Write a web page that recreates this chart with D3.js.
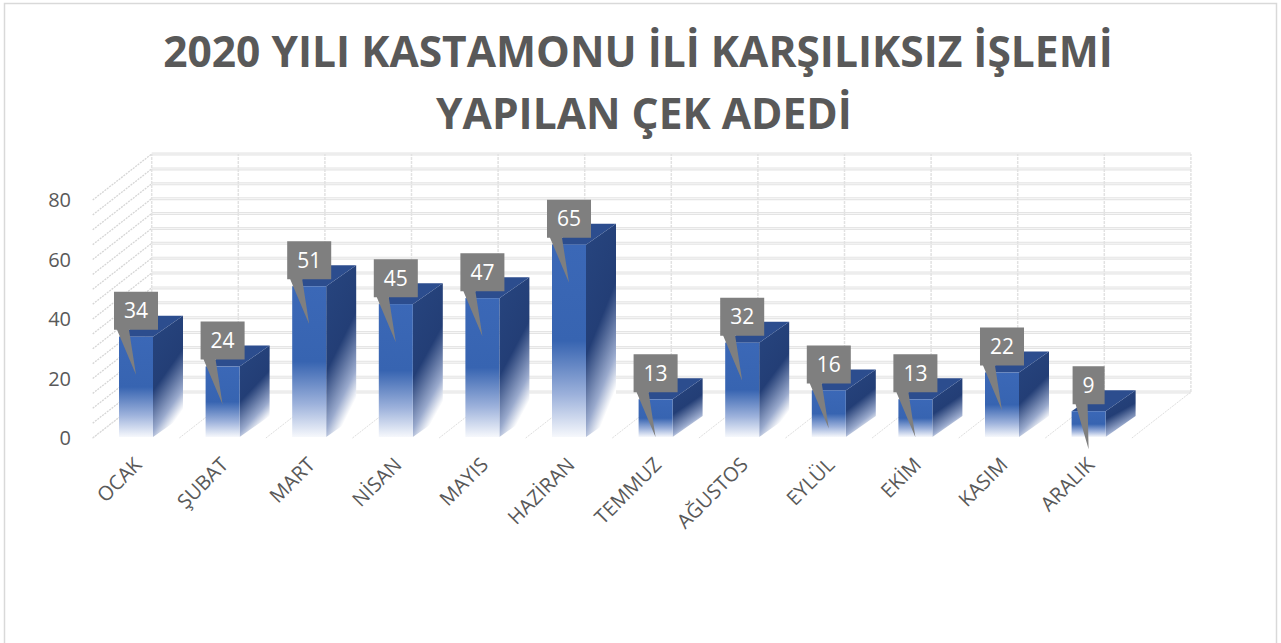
<!DOCTYPE html>
<html>
<head>
<meta charset="utf-8">
<script src="https://d3js.org/d3.v7.min.js"></script>
<style>
    body { margin: 0; background: #fff; }
    #chart { width: 1281px; height: 643px; }
    text { font-family: "Open Sans", "Noto Sans", sans-serif; }
</style>
</head>
<body>
<div id="chart"></div>
<script>
// data
var months = ["OCAK", "ŞUBAT", "MART", "NİSAN", "MAYIS", "HAZİRAN", "TEMMUZ", "AĞUSTOS", "EYLÜL", "EKİM", "KASIM", "ARALIK"];
var counts = [34, 24, 51, 45, 47, 65, 13, 32, 16, 13, 22, 9];
var yTicks = [0, 20, 40, 60, 80];
var titleLines = ["2020 YILI KASTAMONU İLİ KARŞILIKSIZ İŞLEMİ", "YAPILAN ÇEK ADEDİ"];

!function(){
    var width = 1281, height = 643;

    // depth of the 3d box (floor) and of one column
    var depth = {dx: 59, dy: -46};
    var colDepth = {dx: 30, dy: -21};
    var colWidth = 34;

    var svg = d3.select("#chart").append("svg")
        .attr("width", width)
        .attr("height", height);

    // chart area border
    svg.append("rect")
        .attr("x", 4.5).attr("y", 3.5)
        .attr("width", 1272).attr("height", 700)
        .attr("fill", "#fff")
        .attr("stroke", "#d9d9d9")
        .attr("stroke-width", 1.5);

    // front plane scales
    var xScale = d3.scaleBand()
        .domain(months)
        .range([92.7, 1131.9])
        .padding(0);

    var yScale = d3.scaleLinear()
        .domain([0, 80])
        .range([438, 200]);

    // gradients for the column faces
    var defs = svg.append("defs");
    var gFront = defs.append("linearGradient")
        .attr("id", "gFront")
        .attr("x1", 0).attr("y1", 0).attr("x2", 0).attr("y2", 1);
    gFront.append("stop").attr("offset", 0).attr("stop-color", "#3b68b7");
    gFront.append("stop").attr("offset", 0.5).attr("stop-color", "#3764b1");
    gFront.append("stop").attr("offset", 0.78).attr("stop-color", "#9cb1db");
    gFront.append("stop").attr("offset", 1).attr("stop-color", "#f6f8fc");

    var gSide = defs.append("linearGradient")
        .attr("id", "gSide")
        .attr("x1", 0).attr("y1", 0).attr("x2", 0.35).attr("y2", 1);
    gSide.append("stop").attr("offset", 0).attr("stop-color", "#27457f");
    gSide.append("stop").attr("offset", 0.55).attr("stop-color", "#233e76");
    gSide.append("stop").attr("offset", 0.85).attr("stop-color", "#9aaacd");
    gSide.append("stop").attr("offset", 1).attr("stop-color", "#ffffff");

    // title
    svg.append("g").selectAll("text")
        .data(titleLines)
        .enter().append("text")
        .attr("x", function(d, i) { return i == 0 ? 638 : 644; })
        .attr("y", function(d, i) { return 67 + i * 62; })
        .attr("text-anchor", "middle")
        .attr("font-size", 42.5)
        .attr("font-weight", "bold")
        .attr("fill", "#595959")
        .text(function(d) { return d; });

    var walls = svg.append("g").attr("class", "walls");
    var gridVals = yScale.ticks(20);
    var x0 = xScale.range()[0], x1 = xScale.range()[1];

    // left side wall lines
    walls.selectAll(".side")
        .data(gridVals)
        .enter().append("line")
        .attr("x1", x0).attr("y1", function(d) { return yScale(d); })
        .attr("x2", x0 + depth.dx).attr("y2", function(d) { return yScale(d) + depth.dy; })
        .attr("stroke", "#d6d6d6")
        .attr("stroke-width", 1.3)
        .attr("stroke-dasharray", "2,1");

    // back wall horizontal grid (doubled light lines)
    walls.selectAll(".backH")
        .data(gridVals)
        .enter().append("line")
        .attr("x1", x0 + depth.dx).attr("x2", x1 + depth.dx)
        .attr("y1", function(d) { return yScale(d) + depth.dy; })
        .attr("y2", function(d) { return yScale(d) + depth.dy; })
        .attr("stroke", "#e4e4e4")
        .attr("stroke-width", 3);
    walls.selectAll(".backH2")
        .data(gridVals)
        .enter().append("line")
        .attr("x1", x0 + depth.dx).attr("x2", x1 + depth.dx)
        .attr("y1", function(d) { return yScale(d) + depth.dy; })
        .attr("y2", function(d) { return yScale(d) + depth.dy; })
        .attr("stroke", "#f6f6f6")
        .attr("stroke-width", 1);

    // category boundaries: back wall verticals + floor diagonals
    var bounds = months.map(function(m) { return xScale(m); }).concat([x1]);
    walls.selectAll(".backV")
        .data(bounds)
        .enter().append("line")
        .attr("x1", function(d) { return d + depth.dx; })
        .attr("x2", function(d) { return d + depth.dx; })
        .attr("y1", yScale(0) + depth.dy)
        .attr("y2", yScale(80) + depth.dy)
        .attr("stroke", "#e2e2e2")
        .attr("stroke-width", 1.5)
        .attr("stroke-dasharray", "3,1");
    walls.selectAll(".floor")
        .data(bounds)
        .enter().append("line")
        .attr("x1", function(d) { return d; })
        .attr("y1", yScale(0))
        .attr("x2", function(d) { return d + depth.dx; })
        .attr("y2", yScale(0) + depth.dy)
        .attr("stroke", "#dedede")
        .attr("stroke-width", 1)
        .attr("stroke-dasharray", "2,1");

    // y axis labels
    svg.append("g").selectAll("text")
        .data(yTicks)
        .enter().append("text")
        .attr("x", 71)
        .attr("y", function(d) { return yScale(d); })
        .attr("dy", "0.35em")
        .attr("text-anchor", "end")
        .attr("font-size", 20)
        .attr("fill", "#595959")
        .text(function(d) { return d; });

    // x axis labels, rotated
    svg.append("g").selectAll("text")
        .data(months)
        .enter().append("text")
        .attr("transform", function(d) {
            var cx = xScale(d) + xScale.bandwidth() / 2 + 7;
            return "translate(" + cx + ",466) rotate(-45)";
        })
        .attr("text-anchor", "end")
        .attr("font-size", 20)
        .attr("fill", "#595959")
        .text(function(d) { return d; });

    // columns
    var bars = svg.append("g").selectAll("g")
        .data(months.map(function(m, i) { return {m: m, v: counts[i]}; }))
        .enter().append("g");

    function colLeft(d) { return xScale(d.m) + (xScale.bandwidth() - colWidth) / 2; }

    bars.append("polygon")
        .attr("points", function(d) {
            var l = colLeft(d), r = l + colWidth, t = yScale(d.v), b = yScale(0) - 1;
            return [[r, t], [r + colDepth.dx, t + colDepth.dy], [r + colDepth.dx, b + colDepth.dy], [r, b]].join(" ");
        })
        .attr("fill", "url(#gSide)");

    bars.append("polygon")
        .attr("points", function(d) {
            var l = colLeft(d), r = l + colWidth, t = yScale(d.v);
            return [[l, t], [r, t], [r + colDepth.dx, t + colDepth.dy], [l + colDepth.dx, t + colDepth.dy]].join(" ");
        })
        .attr("fill", "#2c4d8e");

    bars.append("rect")
        .attr("x", colLeft)
        .attr("y", function(d) { return yScale(d.v); })
        .attr("width", colWidth)
        .attr("height", function(d) { return yScale(0) - 1 - yScale(d.v); })
        .attr("fill", "url(#gFront)");

    // data label callouts
    var labels = svg.append("g").selectAll("g")
        .data(months.map(function(m, i) { return {m: m, v: counts[i]}; }))
        .enter().append("g");

    labels.each(function(d) {
        var g = d3.select(this);
        var cx = colLeft(d) + colWidth / 2;
        var bottom = yScale(d.v) - 7;
        var txt = g.append("text")
            .attr("x", cx)
            .attr("y", bottom - 19)
            .attr("dy", "0.36em")
            .attr("text-anchor", "middle")
            .attr("font-size", 21)
            .attr("fill", "#fff")
            .text(d.v);
        var w = txt.node().getComputedTextLength() + 20;
        var left = cx - w / 2;
        g.insert("path", "text")
            .attr("d", "M" + left + "," + (bottom - 38) +
                "H" + (left + w) + "V" + bottom +
                "H" + (left + 15) + "L" + cx + "," + (bottom + 45) +
                "L" + (left + 3) + "," + bottom + "H" + left + "Z")
            .attr("fill", "#7f7f7f");
    });
}();
</script>
</body>
</html>
